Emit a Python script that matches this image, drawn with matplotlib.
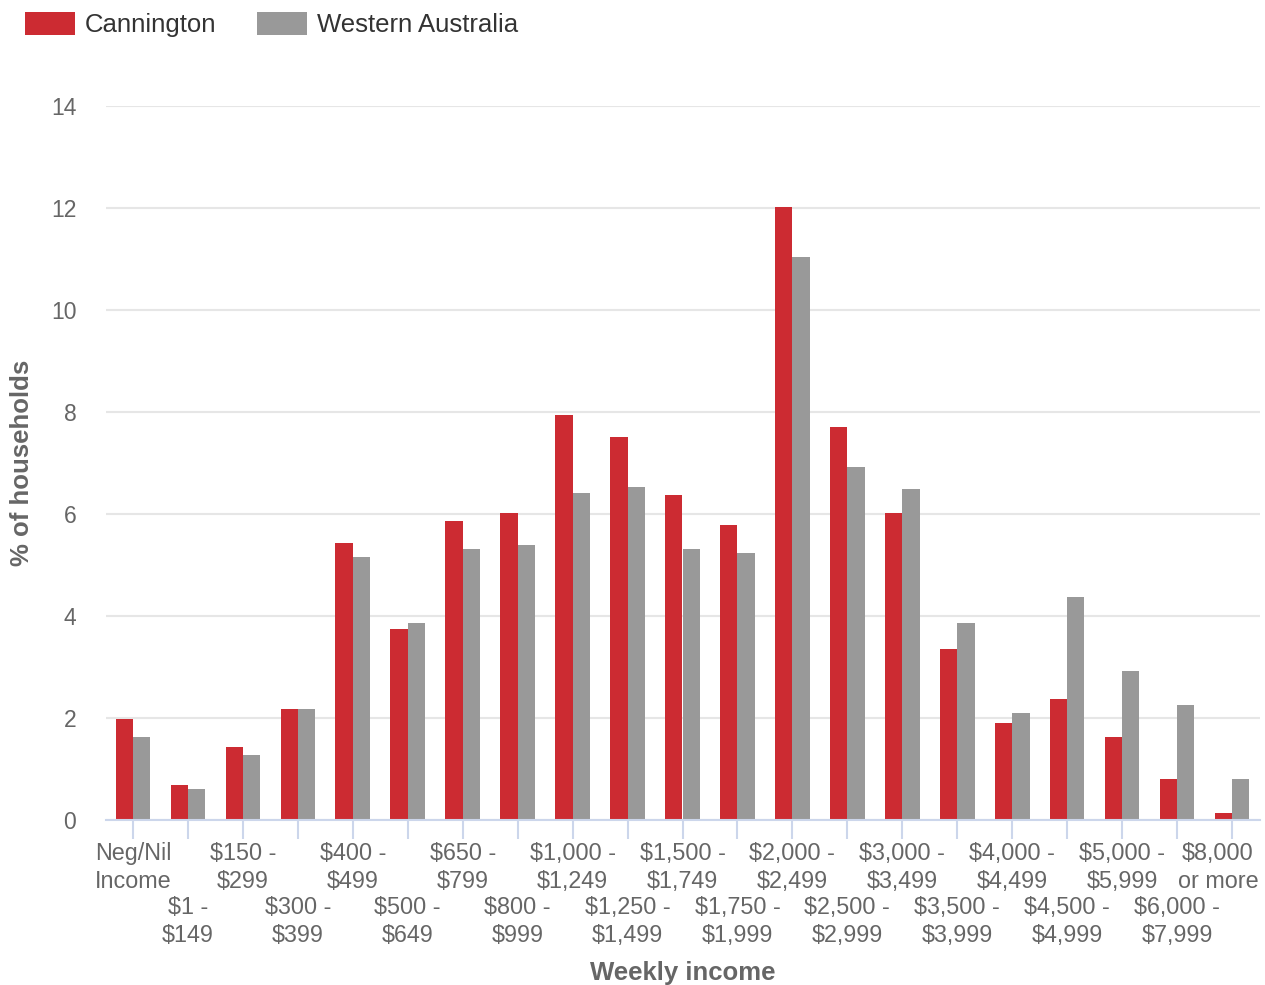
import matplotlib.pyplot as plt
from matplotlib.transforms import ScaledTranslation
import numpy as np

plt.rcParams['font.family'] = ['Liberation Sans', 'DejaVu Sans']

categories = ["Neg/Nil\nIncome", "$1 -\n$149", "$150 -\n$299", "$300 -\n$399",
              "$400 -\n$499", "$500 -\n$649", "$650 -\n$799", "$800 -\n$999",
              "$1,000 -\n$1,249", "$1,250 -\n$1,499", "$1,500 -\n$1,749",
              "$1,750 -\n$1,999", "$2,000 -\n$2,499", "$2,500 -\n$2,999",
              "$3,000 -\n$3,499", "$3,500 -\n$3,999", "$4,000 -\n$4,499",
              "$4,500 -\n$4,999", "$5,000 -\n$5,999", "$6,000 -\n$7,999",
              "$8,000\nor more"]
cannington = [1.98, 0.69, 1.43, 2.18, 5.43, 3.75, 5.86, 6.02, 7.94, 7.51, 6.37,
              5.78, 12.02, 7.71, 6.02, 3.35, 1.90, 2.37, 1.63, 0.80, 0.14]
western_australia = [1.63, 0.61, 1.27, 2.18, 5.16, 3.86, 5.31, 5.39, 6.41, 6.53, 5.31,
                     5.24, 11.04, 6.92, 6.49, 3.86, 2.10, 4.37, 2.92, 2.25, 0.80]
y_ticks = [0, 2, 4, 6, 8, 10, 12, 14]

RED = '#cc2b32'
GREY = '#999999'
TEXT = '#666666'
AXIS = '#ccd6eb'

fig = plt.figure(figsize=(12.65, 9.85), dpi=100)
ax = fig.add_axes([105.5 / 1265, 1 - 820 / 985, 1154 / 1265, 714 / 985])

x = np.arange(len(categories))
w = 0.315
ax.bar(x - w / 2, cannington, w, color=RED, label='Cannington', zorder=3)
ax.bar(x + w / 2, western_australia, w, color=GREY, label='Western Australia', zorder=3)

ax.set_xlim(-0.5, len(categories) - 0.5)
ax.set_ylim(0, 14)
ax.set_yticks(y_ticks)
ax.set_yticklabels([str(t) for t in y_ticks], fontsize=16.5, color=TEXT)
ax.tick_params(axis='y', which='both', length=0, pad=21)
ax.grid(axis='y', color='#e6e6e6', linewidth=1.5, zorder=0)

# staggered labels: even categories on the first row (major), odd ones on the second (minor)
ax.set_xticks(x[::2])
ax.set_xticklabels(categories[::2], fontsize=16.8, color=TEXT, linespacing=1.25)
ax.set_xticks(x[1::2], minor=True)
ax.set_xticklabels(categories[1::2], minor=True, fontsize=16.8, color=TEXT, linespacing=1.25)
ax.tick_params(axis='x', which='major', length=14, width=1.5, color=AXIS, pad=2)
ax.tick_params(axis='x', which='minor', length=14, width=1.5, color=AXIS, pad=41)

# keep the last label inside the figure
last = ax.get_xticklabels()[-1]
last.set_transform(last.get_transform() + ScaledTranslation(-0.14, 0, fig.dpi_scale_trans))

for s in ['top', 'right', 'left']:
    ax.spines[s].set_visible(False)
ax.spines['bottom'].set_color(AXIS)
ax.spines['bottom'].set_linewidth(1.5)
ax.spines['bottom'].set_zorder(4)

fig.text(683 / 1265, 1 - 973 / 985, 'Weekly income', fontsize=18.5, fontweight='bold',
         color=TEXT, ha='center', va='center')
fig.text(22 / 1265, 1 - 463 / 985, '% of households', fontsize=18.5, fontweight='bold',
         color=TEXT, ha='center', va='center', rotation=90)

fig.legend(loc='upper left', bbox_to_anchor=(25 / 1265, 1 - 12 / 985), ncol=2,
           frameon=False, fontsize=18.5, handlelength=1.94, handleheight=1.0,
           handletextpad=0.39, columnspacing=1.6, borderpad=0, borderaxespad=0,
           labelcolor='#333333')

fig.savefig('out.png', dpi=100)
